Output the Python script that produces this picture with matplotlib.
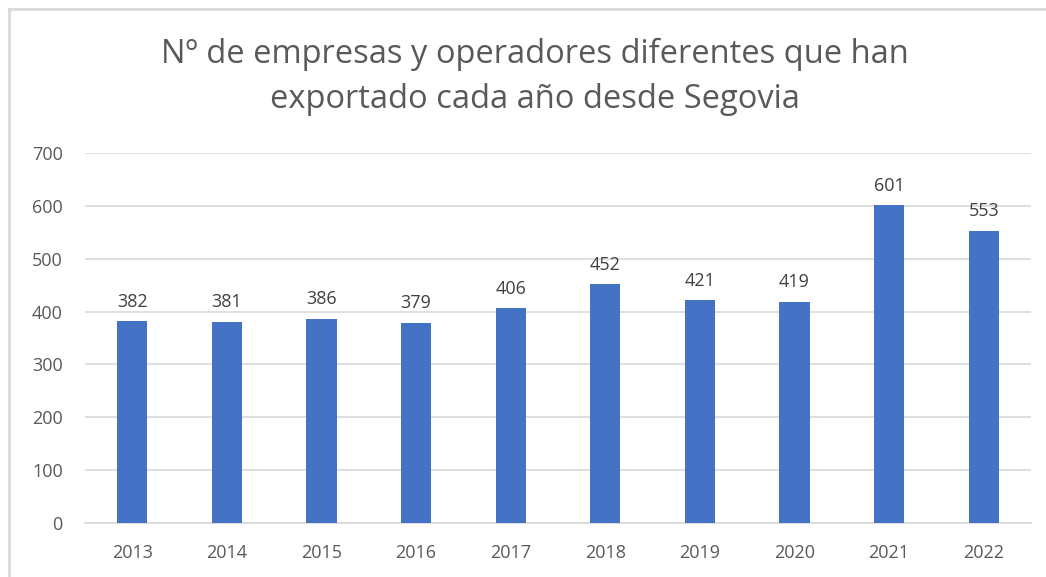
import matplotlib
matplotlib.use("Agg")
import matplotlib.pyplot as plt
from matplotlib.lines import Line2D

years = ["2013", "2014", "2015", "2016", "2017", "2018", "2019", "2020", "2021", "2022"]
values = [382, 381, 386, 379, 406, 452, 421, 419, 601, 553]
title = "Nº de empresas y operadores diferentes que han\nexportado cada año desde Segovia"

plt.rcParams['font.family'] = ['Open Sans', 'DejaVu Sans']
txt = "#595959"

fig = plt.figure(figsize=(10.46, 5.77), dpi=100)
ax = fig.add_axes([85/1046, 1-523/577, (1031-85)/1046, (523-153)/577])

x = list(range(len(years)))
bars = ax.bar(x, values, width=0.32, color="#4472C4", zorder=3)
for xi, v in zip(x, values):
    ax.text(xi, v + 20, str(v), ha="center", va="bottom", fontsize=13, color="#404040")

ax.set_xlim(-0.5, len(years) - 0.5)
ax.set_ylim(0, 700)
ax.set_yticks(range(0, 701, 100))
ax.set_xticks(x)
ax.set_xticklabels(years)
ax.grid(axis="y", color="#D9D9D9", linewidth=1.2, zorder=0)
for s in ["top", "right", "left"]:
    ax.spines[s].set_visible(False)
ax.spines["bottom"].set_color("#D9D9D9")
ax.spines["bottom"].set_linewidth(1.2)
ax.tick_params(axis="both", length=0, labelsize=13, colors=txt)
ax.tick_params(axis="y", pad=16)
ax.tick_params(axis="x", pad=15)

fig.text(535/1046, 1-77/577, title, ha="center", va="center", fontsize=23.5, color=txt, linespacing=1.45)

fig.add_artist(Line2D([9/1046, 9/1046], [0, 1-9/577], color="#D9D9D9", linewidth=2, transform=fig.transFigure))
fig.add_artist(Line2D([9/1046, 1], [1-9/577, 1-9/577], color="#D9D9D9", linewidth=2, transform=fig.transFigure))

fig.savefig("out.png", dpi=100, facecolor="white")
